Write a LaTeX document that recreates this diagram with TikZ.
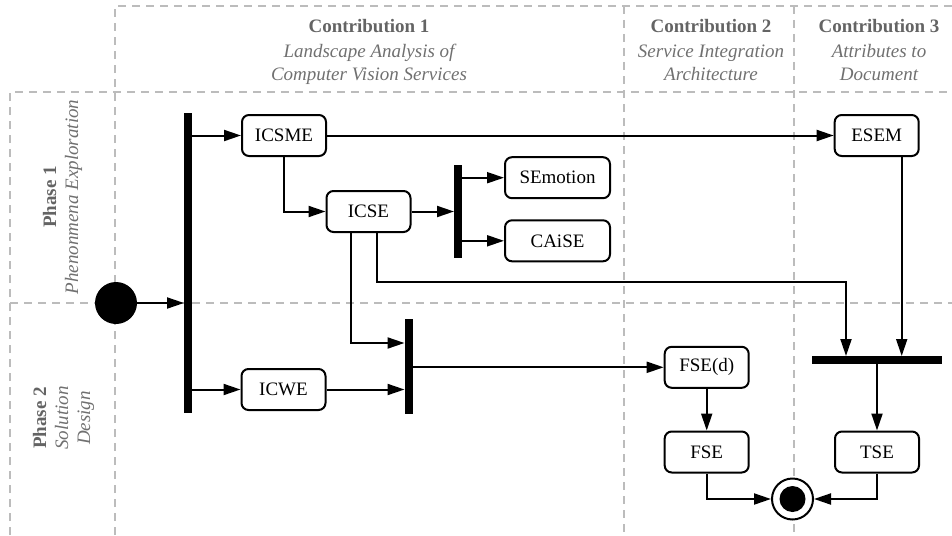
\documentclass[tikz,border=0pt]{standalone}
\usepackage{fontspec}
\setmainfont{Liberation Serif}
\usetikzlibrary{arrows.meta,calc}
\definecolor{lanegray}{RGB}{188,188,188}
\definecolor{hdrgray}{RGB}{100,100,100}
\definecolor{subgray}{RGB}{112,112,112}

\begin{document}
\begin{tikzpicture}[x=1pt,y=-1pt,
  lane/.style={draw=lanegray, line width=1.3pt, dash pattern=on 8pt off 6pt},
  act/.style={draw, fill=white, rounded corners=7pt, line width=2pt,
    minimum width=84pt, minimum height=41pt, inner sep=0pt,
    font=\fontsize{19}{22}\selectfont},
  wideact/.style={act, minimum width=105pt},
  bar/.style={fill=black, inner sep=0pt, outer sep=0pt},
  vbar/.style={bar, minimum width=8pt},
  flow/.style={line width=2pt, -{Triangle[length=17pt,width=11pt]}},
  head/.style={anchor=base, text=hdrgray, inner sep=0pt,
    font=\fontsize{19}{24}\selectfont\bfseries},
  sub/.style={anchor=base, text=subgray, inner sep=0pt,
    font=\fontsize{19}{24}\selectfont\itshape},
]
\useasboundingbox (0,0) rectangle (952,535);

% swimlane grid
\draw[lane] (115,535) -- (115,6) -- (952,6);
\draw[lane] (10,535) -- (10,92) -- (952,92);
\draw[lane] (10,303) -- (952,303);
\draw[lane] (624,6) -- (624,535);
\draw[lane] (794,6) -- (794,535);

% column headers
\node[head] (c1) at (369,33) {Contribution 1};
\node[sub]  (c1a) at (369,57) {Landscape Analysis of};
\node[sub]  (c1b) at (369,81) {Computer Vision Services};
\node[head] (c2) at (711,33) {Contribution 2};
\node[sub]  (c2a) at (711,57) {Service Integration};
\node[sub]  (c2b) at (711,81) {Architecture};
\node[head] (c3) at (879,33) {Contribution 3};
\node[sub]  (c3a) at (879,57) {Attributes to};
\node[sub]  (c3b) at (879,81) {Document};

% row headers
\node[head, rotate=90] (p1)  at (56,197) {Phase 1};
\node[sub,  rotate=90] (p1a) at (78,197) {Phenonmena Exploration};
\node[head, rotate=90] (p2)  at (46,418) {Phase 2};
\node[sub,  rotate=90] (p2a) at (68,418) {Solution};
\node[sub,  rotate=90] (p2b) at (90,418) {Design};

% activities
\node[act] (icsme) at (284,135.5) {ICSME};
\node[act] (icse) at (368.5,211.5) {ICSE};
\node[wideact] (semotion) at (557.5,177.7) {SEmotion};
\node[wideact] (caise) at (557.5,240.8) {CAiSE};
\node[act] (esem) at (876.7,135.5) {ESEM};
\node[act] (icwe) at (283.5,389.5) {ICWE};
\node[act] (fsed) at (706.7,367.3) {FSE(d)};
\node[act] (fse) at (706.7,452) {FSE};
\node[act] (tse) at (877,452) {TSE};

% fork / join bars
\node[vbar, minimum height=300pt] (bar1) at (188,263) {};
\node[vbar, minimum height=93pt] (bar2) at (458,211.5) {};
\node[vbar, minimum height=95pt] (bar3) at (408.5,366) {};
\node[bar, minimum width=130pt, minimum height=8pt] (bar4) at (877,360) {};

% initial and final states
\node[circle, fill=black, minimum size=42pt, inner sep=0pt] (start) at (116,303) {};
\node[circle, draw, fill=white, line width=2pt, minimum size=41pt, inner sep=0pt] (finish) at (792.5,499) {};
\node[circle, fill=black, minimum size=26pt, inner sep=0pt] (finishdot) at (finish) {};

% control flow
\draw[flow] (start) -- (start -| bar1.west);
\draw[flow] (icsme -| bar1.east) -- (icsme.west);
\draw[flow] (icwe -| bar1.east) -- (icwe.west);
\draw[flow] (icsme.south) |- (icse.west);
\draw[flow] (icsme.east) -- (esem.west);
\draw[flow] (icse.east) -- (icse -| bar2.west);
\draw[flow] (semotion -| bar2.east) -- (semotion.west);
\draw[flow] (caise -| bar2.east) -- (caise.west);
\draw[flow] ($(icse.south)+(-18,0)$) |- ($(bar3.west)+(0,-23)$);
\draw[flow] (icwe.east) -- (icwe -| bar3.west);
\draw[flow] (fsed -| bar3.east) -- (fsed.west);
\draw[flow] (fsed) -- (fse);
\coordinate (icsebend) at (846,282);
\draw[flow] ($(icse.south)+(8,0)$) |- (icsebend) -- (icsebend |- bar4.north);
\draw[flow] ($(esem.south)+(25,0)$) coordinate (esemout) -- (esemout |- bar4.north);
\draw[flow] (bar4) -- (tse);
\draw[flow] (fse.south) |- (finish.west);
\draw[flow] (tse.south) |- (finish.east);
\end{tikzpicture}
\end{document}
